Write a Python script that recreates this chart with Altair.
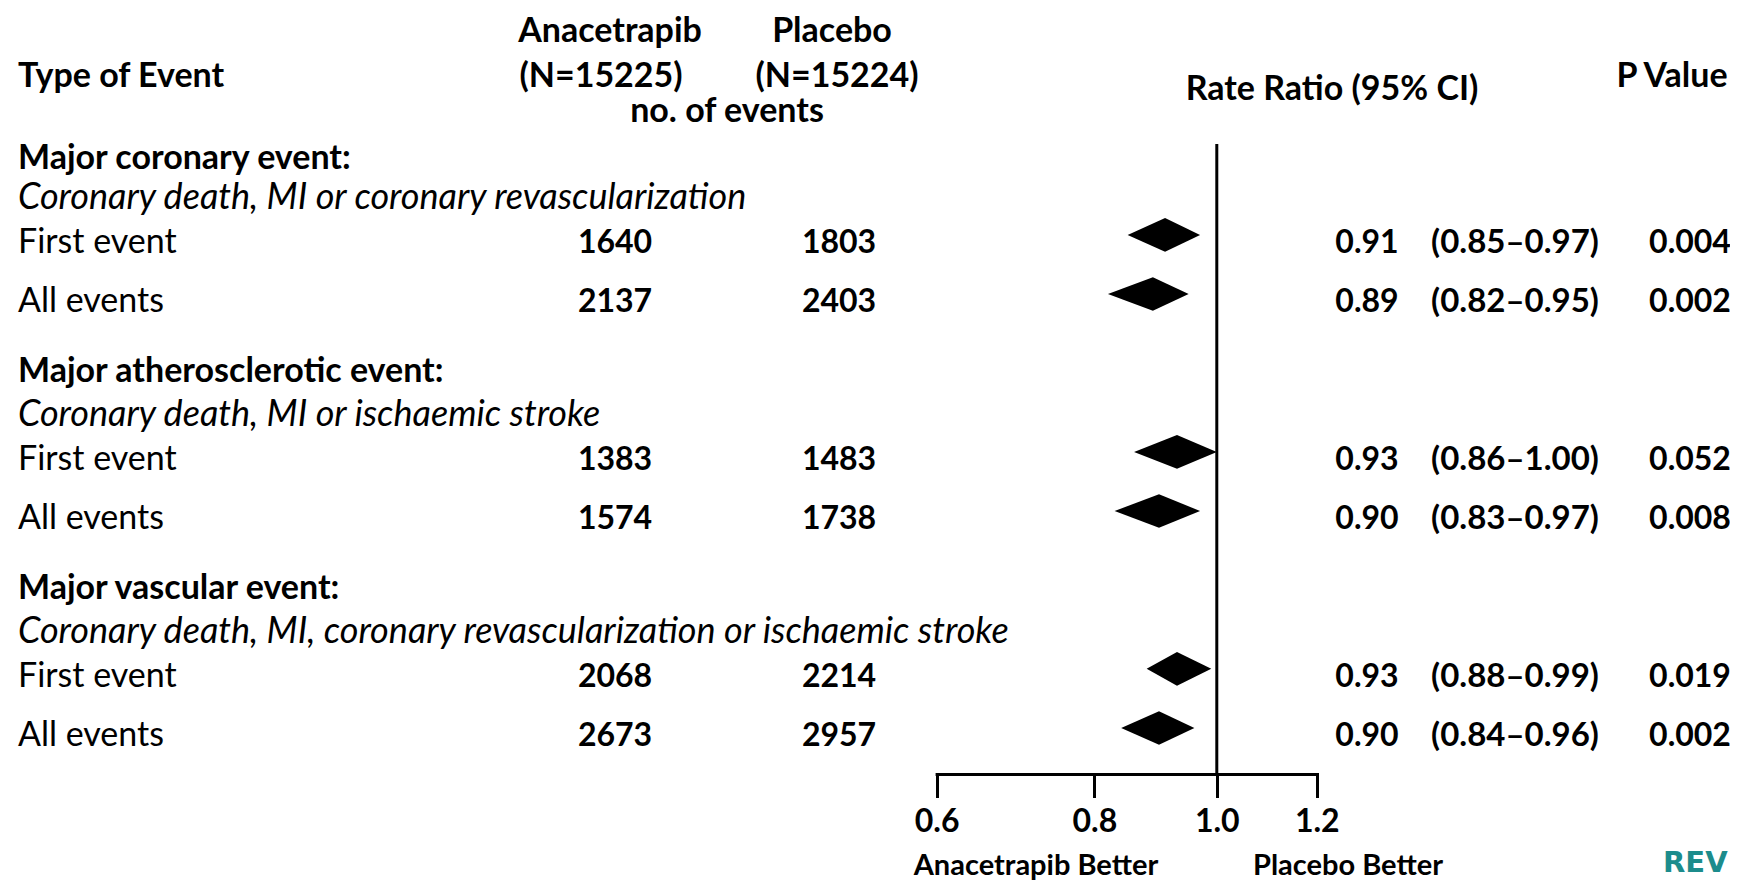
import altair as alt
import pandas as pd

# ---------------- data ----------------
group_titles = ["Major coronary event:", "Major atherosclerotic event:", "Major vascular event:"]
group_defs = [
    "Coronary death, MI or coronary revascularization",
    "Coronary death, MI or ischaemic stroke",
    "Coronary death, MI, coronary revascularization or ischaemic stroke",
]
event_kinds = ["First event", "All events"]
anacetrapib_events = [1640, 2137, 1383, 1574, 2068, 2673]
placebo_events = [1803, 2403, 1483, 1738, 2214, 2957]
rate_ratio = [0.91, 0.89, 0.93, 0.90, 0.93, 0.90]
ci_low = [0.85, 0.82, 0.86, 0.83, 0.88, 0.84]
ci_high = [0.97, 0.95, 1.00, 0.97, 0.99, 0.96]
p_values = ["0.004", "0.002", "0.052", "0.008", "0.019", "0.002"]
x_ticks = [0.6, 0.8, 1.0, 1.2]

# ---------------- layout ----------------
FONT = "Lato"
FS_BOLD = 34
FS_NUM = 32
FS_CI = 33
FS_REG = 34
FS_ITAL = 36
W, H = 1722, 766
LINE_OFF = [0, 0.8, 1.62, 2.71]   # line slots inside a group
TITLE_NUDGE = [0.08, 0, 0]        # first group title sits a little closer to its description
GROUP_STEP = 4.0
HALF_H = 0.31                      # diamond half height in slot units
TXT_DY = 8

yscale = alt.Scale(domain=[0, 10.71], range=[139, 720], nice=False, zero=False)
xscale = alt.Scale(type="log", domain=[0.6, 1.2], range=[928.6, 1308.8], nice=False)
xaxis = alt.Axis(values=x_ticks, format=".1f", title=None, grid=False,
                 domainColor="black", domainWidth=3, domainCap="square",
                 tickColor="black", tickWidth=3, tickSize=22, tickCap="square",
                 labelFont=FONT, labelFontSize=32, labelFontWeight="bold",
                 labelColor="black", labelPadding=10, labelFlush=False,
                 labelOverlap=False)

# label table (left column)
lab_rows = []
for g in range(3):
    base = g * GROUP_STEP
    lab_rows.append({"slot": base + LINE_OFF[0] + TITLE_NUDGE[g], "text": group_titles[g], "kind": "title"})
    lab_rows.append({"slot": base + LINE_OFF[1], "text": group_defs[g], "kind": "def"})
    for k in range(2):
        lab_rows.append({"slot": base + LINE_OFF[2 + k], "text": event_kinds[k], "kind": "event"})
labels = pd.DataFrame(lab_rows)

ev_rows = []
dia_rows = []
for i in range(6):
    g, k = divmod(i, 2)
    slot = g * GROUP_STEP + LINE_OFF[2 + k]
    ev_rows.append({
        "slot": slot,
        "ana": str(anacetrapib_events[i]),
        "pla": str(placebo_events[i]),
        "rr": f"{rate_ratio[i]:.2f}",
        "ci": f"({ci_low[i]:.2f}\u2013{ci_high[i]:.2f})",
        "p": p_values[i],
    })
    dia_rows.append({"row": i, "xv": ci_low[i], "ylo": slot, "yhi": slot})
    dia_rows.append({"row": i, "xv": rate_ratio[i], "ylo": slot - HALF_H, "yhi": slot + HALF_H})
    dia_rows.append({"row": i, "xv": ci_high[i], "ylo": slot, "yhi": slot})
events = pd.DataFrame(ev_rows)
diamonds = pd.DataFrame(dia_rows)

Y = alt.Y("slot:Q", scale=yscale, axis=None)


def col_text(df, field, x, size, align="center", weight="bold", style="normal", filt=None):
    c = alt.Chart(df)
    if filt is not None:
        c = c.transform_filter(filt)
    return c.mark_text(align=align, baseline="middle", font=FONT, fontSize=size,
                       fontWeight=weight, fontStyle=style, color="black",
                       dy=TXT_DY).encode(x=alt.value(x), y=Y, text=f"{field}:N")


def label(text, x, y, align="center", weight="bold", size=FS_BOLD, color="black",
          font=FONT, baseline="middle"):
    return alt.Chart(pd.DataFrame({"t": [text]})).mark_text(
        align=align, baseline=baseline, font=font, fontSize=size,
        fontWeight=weight, color=color).encode(x=alt.value(x), y=alt.value(y), text="t:N")


titles = col_text(labels, "text", 10, FS_BOLD, align="left", weight="bold",
                  filt=alt.datum.kind == "title")
defs = col_text(labels, "text", 10, FS_ITAL, align="left", weight="normal", style="italic",
                filt=alt.datum.kind == "def")
kinds = col_text(labels, "text", 10, FS_REG, align="left", weight="normal",
                 filt=alt.datum.kind == "event")

ana = col_text(events, "ana", 607, FS_NUM)
pla = col_text(events, "pla", 831, FS_NUM)
rr = col_text(events, "rr", 1359, FS_NUM)
ci = col_text(events, "ci", 1507, FS_CI)
pv = col_text(events, "p", 1682, FS_NUM)

dia = alt.Chart(diamonds).mark_area(color="black", interpolate="linear",
                                    orient="vertical").encode(
    x=alt.X("xv:Q", scale=xscale, axis=xaxis),
    y=alt.Y("ylo:Q", scale=yscale, axis=None),
    y2="yhi:Q",
    detail="row:N",
)

ref = alt.Chart(pd.DataFrame({"ref": [1.0]})).mark_rule(
    color="black", strokeWidth=3).encode(
    x=alt.X("ref:Q", scale=xscale, axis=xaxis),
    y=alt.value(136), y2=alt.value(H),
)

headers = [
    label("Anacetrapib", 602, 24),
    label("Placebo", 824, 24),
    label("Type of Event", 10, 69, align="left"),
    label("(N=15225)", 593, 69),
    label("(N=15224)", 829, 69),
    label("no. of events", 719, 104),
    label("Rate Ratio (95% CI)", 1324, 82),
    label("P Value", 1664, 69),
    label("Anacetrapib Better", 1028, 858, size=29),
    label("Placebo Better", 1340, 858, size=29),
    label("REV", 1655, 864, align="left", size=29, color="#1c8c8c",
          font="DejaVu Sans", baseline="alphabetic"),
]

chart = alt.layer(
    ref, dia, titles, defs, kinds, ana, pla, rr, ci, pv, *headers
).properties(
    width=W, height=H,
    autosize=alt.AutoSizeParams(type="none"),
    padding={"left": 0, "top": 0, "right": 0, "bottom": 106},
    background="white",
).configure_view(stroke=None)

chart.save("out.html", embed_options={"renderer": "svg", "actions": False})
